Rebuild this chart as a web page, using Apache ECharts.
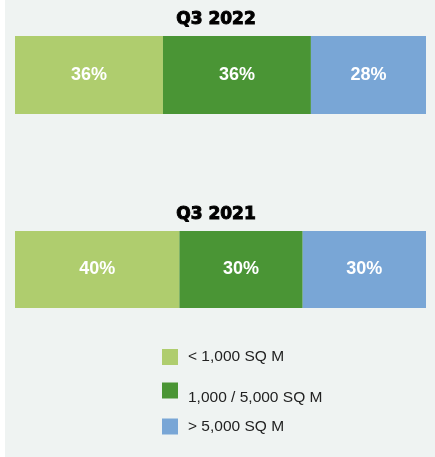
<!DOCTYPE html>
<html>
<head>
<meta charset="utf-8">
<script src="https://cdn.jsdelivr.net/npm/echarts@6/dist/echarts.min.js"></script>
<style>
  html, body { margin: 0; padding: 0; background: #fff; }
  #chart { width: 435px; height: 457px; background: linear-gradient(to right, #fff 5px, #eff3f2 5px); }
</style>
</head>
<body>
<div id="chart"></div>
<script>
var periods = ['Q3 2022', 'Q3 2021'];
var sizeBands = ['< 1,000 SQ M', '1,000 / 5,000 SQ M', '> 5,000 SQ M'];
var share2022 = [36, 36, 28];
var share2021 = [40, 30, 30];
var colors = ['#afcd6e', '#4a9535', '#79a6d6'];

var shares = [share2022, share2021];
var gridTops = [36, 231];
var gridHeights = [78, 77];

var grids = [], xAxes = [], yAxes = [], titles = [], series = [];
for (var g = 0; g < periods.length; g++) {
	grids.push({ left: 15, width: 411, top: gridTops[g], height: gridHeights[g] });
	xAxes.push({ type: 'value', gridIndex: g, min: 0, max: 100, show: false });
	yAxes.push({ type: 'category', gridIndex: g, data: [periods[g]], show: false });
	titles.push({
		text: periods[g],
		left: 211,
		top: gridTops[g] - 30,
		textAlign: 'center',
		textStyle: {
			fontFamily: 'DejaVu Sans',
			fontWeight: 'bold',
			fontSize: 17,
			color: '#000',
			textBorderColor: '#000',
			textBorderWidth: 1
		}
	});
	for (var i = 0; i < sizeBands.length; i++) {
		series.push({
			name: sizeBands[i],
			type: 'bar',
			stack: 'p' + g,
			xAxisIndex: g,
			yAxisIndex: g,
			barWidth: '100%',
			data: [shares[g][i]],
			itemStyle: { color: colors[i] },
			label: {
				show: true,
				position: 'inside',
				formatter: '{c}%',
				color: '#fff',
				fontFamily: 'Liberation Sans',
				fontWeight: 'bold',
				fontSize: 18
			},
			emphasis: { disabled: true },
			animation: false
		});
	}
}

// legend rows are not evenly spaced in the original, so one legend per item
var legendTops = [349, 375, 418];
var legendPads = [[0, 0, 0, 5], [0, 0, 0, 5], [2, 0, 0, 5]];
var legends = [];
for (var k = 0; k < sizeBands.length; k++) {
	legends.push({
		data: [sizeBands[k]],
		left: 162,
		top: legendTops[k],
		padding: 0,
		itemWidth: 16,
		itemHeight: 16,
		icon: 'rect',
		selectedMode: false,
		// middle item's text sits below its swatch in the original
		formatter: k === 1 ? function (name) { return '\n' + name; } : '{name}',
		textStyle: {
			fontFamily: 'Liberation Sans',
			fontSize: 15.5,
			lineHeight: 15,
			color: '#222',
			padding: legendPads[k]
		}
	});
}

var chart = echarts.init(document.getElementById('chart'));
chart.setOption({
	backgroundColor: 'transparent',
	title: titles,
	grid: grids,
	xAxis: xAxes,
	yAxis: yAxes,
	legend: legends,
	series: series
});
</script>
</body>
</html>
